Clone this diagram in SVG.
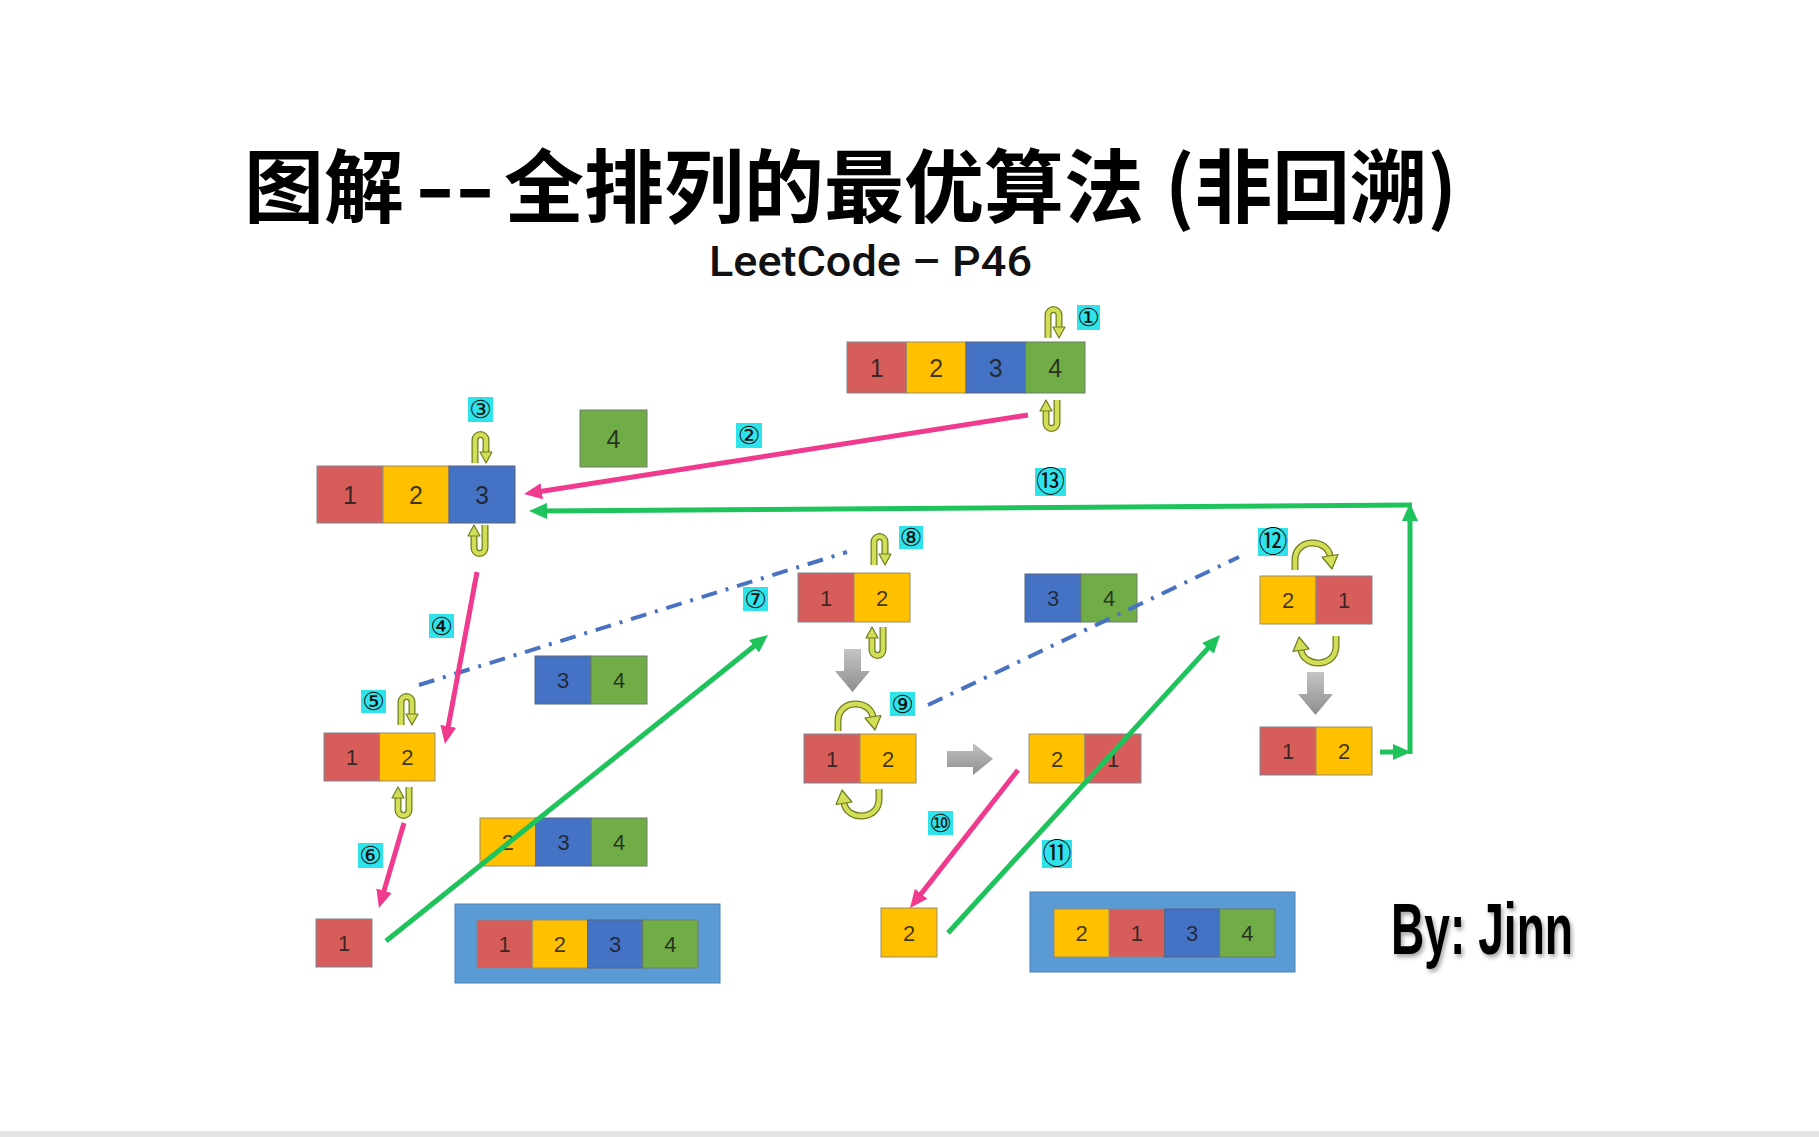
<svg xmlns="http://www.w3.org/2000/svg" xmlns:xlink="http://www.w3.org/1999/xlink" width="1819" height="1137" viewBox="0 0 1819 1137">
<style>
.r{fill:#D65D5A;stroke:#7D8796;stroke-width:1}
.y{fill:#FFC000;stroke:#9A8E6A;stroke-width:1}
.b{fill:#4472C4;stroke:#56657E;stroke-width:1}
.g{fill:#70AD47;stroke:#6C7E68;stroke-width:1}
.n{font-family:"Liberation Sans",Arial,sans-serif;font-size:22px;fill:#1c1c1c;fill-opacity:0.85;text-anchor:middle}
.n24{font-size:25px}
.cont{fill:#5B9BD5;stroke:#4A80B8;stroke-width:1}
.lb rect{fill:#2EE3EA}
.lb text{font-family:"DejaVu Sans","Noto Sans CJK SC",sans-serif;font-size:25px;fill:#111;text-anchor:middle;dominant-baseline:central}
.lbb text{font-size:29px}
.cOut{fill:none;stroke:#6E7C1E;stroke-width:7}
.cIn{fill:none;stroke:#D3DE58;stroke-width:4.5}
.cHead{fill:#D3DE58;stroke:#6E7C1E;stroke-width:1.2;stroke-linejoin:round}
.pk{stroke:#F03A8E;stroke-width:5;fill:none;marker-end:url(#mp)}
.gr{stroke:#1EC35C;stroke-width:5;fill:none;marker-end:url(#mg)}
.dd{stroke:#4A72C2;stroke-width:4;fill:none;stroke-dasharray:16 9 3 9}
.ga{fill:url(#gg)}
</style>
<defs>
<linearGradient id="gg" x1="0" y1="0" x2="0" y2="1">
<stop offset="0" stop-color="#C4C4C4"/><stop offset="1" stop-color="#8E8E8E"/>
</linearGradient>
<filter id="sh" x="-10%" y="-10%" width="130%" height="140%">
<feDropShadow dx="2" dy="3" stdDeviation="2" flood-color="#000" flood-opacity="0.35"/>
</filter>
<marker id="mp" markerUnits="userSpaceOnUse" markerWidth="18" markerHeight="16" refX="8" refY="8" orient="auto" viewBox="0 0 18 16">
<path d="M0,0 L18,8 L0,16 Z" fill="#F03A8E"/>
</marker>
<marker id="mg" markerUnits="userSpaceOnUse" markerWidth="18" markerHeight="16" refX="8" refY="8" orient="auto" viewBox="0 0 18 16">
<path d="M0,0 L18,8 L0,16 Z" fill="#1EC35C"/>
</marker>
<g id="curlS">
<path class="cOut" d="M5,33 V10 A5.5,5.5 0 0 1 16,10 V23"/>
<path class="cIn" d="M5,33 V10 A5.5,5.5 0 0 1 16,10 V23"/>
<path class="cHead" d="M10,22 L22,22 L16,33 Z"/>
</g>
<g id="curlB">
<path class="cOut" d="M8,32 V22 C8,0 40,0 43,18"/>
<path class="cIn" d="M8,32 V22 C8,0 40,0 43,18"/>
<path class="cHead" d="M35,19 L51,16.5 L45,31 Z"/>
</g>
<polygon id="gdown" class="ga" points="9,0 26,0 26,22 35,22 17.5,43 0,22 9,22"/>
<polygon id="gright" class="ga" points="0,8 26,8 26,0 46,16 26,32 26,24 0,24"/>
</defs>
<rect width="1819" height="1137" fill="#FFFFFF"/>
<rect x="0" y="1131" width="1819" height="6" fill="#E4E4E4"/>

<g id="title" font-family="'Noto Sans CJK SC','Noto Sans CJK TC',sans-serif" font-weight="bold" font-size="80" fill="#000">
<text x="244" y="216">图解</text>
<text x="415" y="216" textLength="80" lengthAdjust="spacingAndGlyphs">--</text>
<text x="504" y="216" textLength="640" lengthAdjust="spacingAndGlyphs">全排列的最优算法</text>
<text x="1165" y="216" textLength="292" lengthAdjust="spacingAndGlyphs">(非回溯)</text>
</g>
<text id="subtitle" x="709" y="276" font-family="Roboto,'Liberation Sans',sans-serif" font-weight="500" font-size="43" fill="#111" textLength="323" lengthAdjust="spacingAndGlyphs">LeetCode – P46</text>
<text id="author" x="1391" y="954" font-family="'Liberation Sans',Arial,sans-serif" font-weight="bold" font-size="73" fill="#000" textLength="182" lengthAdjust="spacingAndGlyphs" filter="url(#sh)">By: Jinn</text>

<g id="nodeA">
<rect class="r" x="847" y="342" width="59.5" height="51"/>
<rect class="y" x="906.5" y="342" width="59.5" height="51"/>
<rect class="b" x="966" y="342" width="59.5" height="51"/>
<rect class="g" x="1025.5" y="342" width="59.5" height="51"/>
<text class="n n24" x="876.8" y="377">1</text>
<text class="n n24" x="936.3" y="377">2</text>
<text class="n n24" x="995.8" y="377">3</text>
<text class="n n24" x="1055.3" y="377">4</text>
<use xlink:href="#curlS" transform="translate(1043,305)"/>
<use xlink:href="#curlS" transform="translate(1062,433) rotate(180)"/>
</g>

<g id="nodeB">
<rect class="r" x="317" y="466" width="66" height="57"/>
<rect class="y" x="383" y="466" width="66" height="57"/>
<rect class="b" x="449" y="466" width="66" height="57"/>
<text class="n n24" x="350" y="503.5">1</text>
<text class="n n24" x="416" y="503.5">2</text>
<text class="n n24" x="482" y="503.5">3</text>
<use xlink:href="#curlS" transform="translate(470,430)"/>
<use xlink:href="#curlS" transform="translate(490,558) rotate(180)"/>
</g>

<g id="node4">
<rect class="g" x="580" y="410" width="67" height="57"/>
<text class="n n24" x="613.5" y="447.5">4</text>
</g>

<g id="node34a">
<rect class="b" x="535" y="656" width="56" height="48"/>
<rect class="g" x="591" y="656" width="56" height="48"/>
<text class="n" x="563" y="688">3</text>
<text class="n" x="619" y="688">4</text>
</g>

<g id="node12a">
<rect class="r" x="324" y="733" width="55.5" height="48"/>
<rect class="y" x="379.5" y="733" width="55.5" height="48"/>
<text class="n" x="351.8" y="765">1</text>
<text class="n" x="407.3" y="765">2</text>
<use xlink:href="#curlS" transform="translate(396,692)"/>
<use xlink:href="#curlS" transform="translate(414,820) rotate(180)"/>
</g>

<g id="node1">
<rect class="r" x="316" y="919" width="56" height="48"/>
<text class="n" x="344" y="951">1</text>
</g>

<g id="node234">
<rect class="y" x="480" y="818" width="55.7" height="48"/>
<rect class="b" x="535.7" y="818" width="55.6" height="48"/>
<rect class="g" x="591.3" y="818" width="55.7" height="48"/>
<text class="n" x="507.8" y="850">2</text>
<text class="n" x="563.5" y="850">3</text>
<text class="n" x="619.1" y="850">4</text>
</g>

<g id="result1">
<rect class="cont" x="455" y="904" width="265" height="79"/>
<rect class="r" x="477" y="920" width="55.25" height="48"/>
<rect class="y" x="532.25" y="920" width="55.25" height="48"/>
<rect class="b" x="587.5" y="920" width="55.25" height="48"/>
<rect class="g" x="642.75" y="920" width="55.25" height="48"/>
<text class="n" x="504.6" y="952">1</text>
<text class="n" x="559.9" y="952">2</text>
<text class="n" x="615.1" y="952">3</text>
<text class="n" x="670.4" y="952">4</text>
</g>

<g id="node12b">
<rect class="r" x="798" y="573" width="56" height="49"/>
<rect class="y" x="854" y="573" width="56" height="49"/>
<text class="n" x="826" y="605.5">1</text>
<text class="n" x="882" y="605.5">2</text>
<use xlink:href="#curlS" transform="translate(869,532)"/>
<use xlink:href="#curlS" transform="translate(888,660) rotate(180)"/>
<use xlink:href="#gdown" transform="translate(835,649)"/>
</g>

<g id="node12c">
<rect class="r" x="804" y="734" width="56" height="49"/>
<rect class="y" x="860" y="734" width="56" height="49"/>
<text class="n" x="832" y="766.5">1</text>
<text class="n" x="888" y="766.5">2</text>
<use xlink:href="#curlB" transform="translate(830,699)"/>
<use xlink:href="#curlB" transform="translate(887,821) rotate(180)"/>
<use xlink:href="#gright" transform="translate(947,743)"/>
</g>

<g id="node21a">
<rect class="y" x="1029" y="734" width="56" height="49"/>
<rect class="r" x="1085" y="734" width="56" height="49"/>
<text class="n" x="1057" y="766.5">2</text>
<text class="n" x="1113" y="766.5">1</text>
</g>

<g id="node34b">
<rect class="b" x="1025" y="574" width="56" height="48"/>
<rect class="g" x="1081" y="574" width="56" height="48"/>
<text class="n" x="1053" y="606">3</text>
<text class="n" x="1109" y="606">4</text>
</g>

<g id="node2">
<rect class="y" x="881" y="908" width="56" height="49"/>
<text class="n" x="909" y="940.5">2</text>
</g>

<g id="result2">
<rect class="cont" x="1030" y="892" width="265" height="80"/>
<rect class="y" x="1054" y="909" width="55.25" height="48"/>
<rect class="r" x="1109.25" y="909" width="55.25" height="48"/>
<rect class="b" x="1164.5" y="909" width="55.25" height="48"/>
<rect class="g" x="1219.75" y="909" width="55.25" height="48"/>
<text class="n" x="1081.6" y="941">2</text>
<text class="n" x="1136.9" y="941">1</text>
<text class="n" x="1192.1" y="941">3</text>
<text class="n" x="1247.4" y="941">4</text>
</g>

<g id="node21b">
<rect class="y" x="1260" y="576" width="56" height="48"/>
<rect class="r" x="1316" y="576" width="56" height="48"/>
<text class="n" x="1288" y="608">2</text>
<text class="n" x="1344" y="608">1</text>
<use xlink:href="#curlB" transform="translate(1287,538)"/>
<use xlink:href="#curlB" transform="translate(1344,668) rotate(180)"/>
<use xlink:href="#gdown" transform="translate(1298,672)"/>
</g>

<g id="node12d">
<rect class="r" x="1260" y="727" width="56" height="48"/>
<rect class="y" x="1316" y="727" width="56" height="48"/>
<text class="n" x="1288" y="759">1</text>
<text class="n" x="1344" y="759">2</text>
</g>

<g id="connectors">
<line class="dd" x1="419" y1="685" x2="847" y2="552"/>
<line class="dd" x1="928" y1="705" x2="1239" y2="557"/>
<line class="pk" x1="1028" y1="415" x2="533.9" y2="492.5"/>
<line class="pk" x1="477" y1="572" x2="446.8" y2="734.2"/>
<line class="pk" x1="404" y1="823" x2="381.8" y2="898.4"/>
<line class="pk" x1="1018" y1="770" x2="916.2" y2="900.1"/>
<line class="gr" x1="386" y1="941" x2="760.2" y2="641.3"/>
<line class="gr" x1="948" y1="933" x2="1213.3" y2="642.4"/>
<line class="gr" x1="1380" y1="752" x2="1401" y2="752"/>
<line class="gr" x1="1410" y1="754" x2="1410" y2="513"/>
<line class="gr" x1="1412" y1="505" x2="539" y2="511"/>
</g>

<g id="labels">
<g class="lb" id="s1"><rect x="1077" y="305" width="23" height="25"/><text x="1088.5" y="317.5">①</text></g>
<g class="lb" id="s2"><rect x="736" y="423" width="26" height="25"/><text x="749" y="435.5">②</text></g>
<g class="lb" id="s3"><rect x="468" y="397" width="25" height="25"/><text x="480.5" y="409.5">③</text></g>
<g class="lb" id="s4"><rect x="429" y="614" width="25" height="24"/><text x="441.5" y="626">④</text></g>
<g class="lb" id="s5"><rect x="361" y="690" width="25" height="23"/><text x="373.5" y="701.5">⑤</text></g>
<g class="lb" id="s6"><rect x="358" y="843" width="25" height="25"/><text x="370.5" y="855.5">⑥</text></g>
<g class="lb" id="s7"><rect x="743" y="587" width="25" height="24"/><text x="755.5" y="599">⑦</text></g>
<g class="lb" id="s8"><rect x="899" y="526" width="24" height="23"/><text x="911" y="537.5">⑧</text></g>
<g class="lb" id="s9"><rect x="890" y="692" width="25" height="24"/><text x="902.5" y="704">⑨</text></g>
<g class="lb" id="s10"><rect x="928" y="811" width="25" height="24"/><text x="940.5" y="823">⑩</text></g>
<g class="lb lbb" id="s11"><rect x="1042" y="840" width="30" height="28"/><text x="1057" y="854">⑪</text></g>
<g class="lb lbb" id="s12"><rect x="1258" y="528" width="30" height="28"/><text x="1273" y="542">⑫</text></g>
<g class="lb lbb" id="s13"><rect x="1035" y="468" width="31" height="28"/><text x="1050.5" y="482">⑬</text></g>
</g>
</svg>
